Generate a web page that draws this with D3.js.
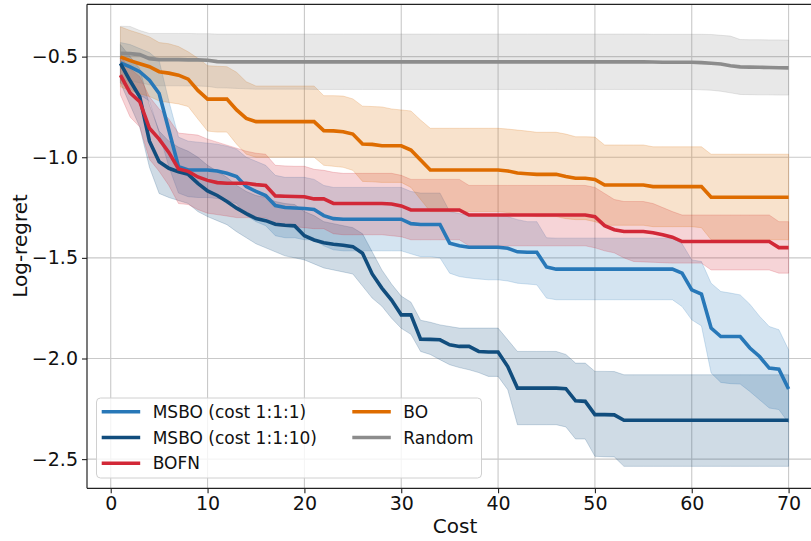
<!DOCTYPE html>
<html><head><meta charset="utf-8">
<script src="https://cdn.jsdelivr.net/npm/d3@7"></script>
<style>
html,body{margin:0;padding:0;background:#fff;}
svg{display:block;font-family:"DejaVu Sans",sans-serif;}
</style></head>
<body><svg id="chart" width="811" height="541"></svg>
<script>
const cost = [1,2,3,4,5,6,7,8,9,10,11,12,13,14,15,16,17,18,19,20,21,22,23,24,25,26,27,28,29,30,31,32,33,34,35,36,37,38,39,40,41,42,43,44,45,46,47,48,49,50,51,52,53,54,55,56,57,58,59,60,61,62,63,64,65,66,67,68,69,70];

const xTicks = [0,10,20,30,40,50,60,70];
const yTicks = [-2.5,-2.0,-1.5,-1.0,-0.5];
const seriesNames = ["MSBO (cost 1:1:1)","MSBO (cost 1:1:10)","BOFN","BO","Random"];

// MSBO (cost 1:1:1)
const msbo111 = [-0.531,-0.551,-0.575,-0.617,-0.683,-0.865,-1.047,-1.063,-1.063,-1.063,
-1.068,-1.080,-1.096,-1.146,-1.170,-1.190,-1.240,-1.250,-1.252,-1.255,
-1.260,-1.290,-1.305,-1.308,-1.308,-1.308,-1.308,-1.308,-1.308,-1.308,
-1.330,-1.334,-1.334,-1.334,-1.427,-1.440,-1.447,-1.447,-1.447,-1.447,
-1.452,-1.470,-1.472,-1.472,-1.545,-1.556,-1.556,-1.556,-1.556,-1.556,
-1.556,-1.556,-1.556,-1.556,-1.556,-1.556,-1.556,-1.556,-1.576,-1.659,
-1.680,-1.849,-1.891,-1.891,-1.891,-1.948,-1.990,-2.048,-2.053,-2.152];
const msbo111Up = [-0.430,-0.440,-0.460,-0.480,-0.520,-0.720,-0.900,-0.920,-0.925,-0.930,
-0.935,-0.945,-0.960,-1.000,-1.020,-1.040,-1.090,-1.100,-1.100,-1.100,
-1.110,-1.140,-1.150,-1.150,-1.150,-1.150,-1.150,-1.150,-1.150,-1.150,
-1.170,-1.178,-1.178,-1.178,-1.270,-1.280,-1.290,-1.290,-1.290,-1.290,
-1.295,-1.310,-1.320,-1.320,-1.400,-1.402,-1.402,-1.402,-1.402,-1.402,
-1.402,-1.402,-1.402,-1.402,-1.402,-1.402,-1.402,-1.402,-1.430,-1.510,
-1.518,-1.626,-1.667,-1.675,-1.684,-1.730,-1.790,-1.841,-1.857,-1.957];
const msbo111Lo = [-0.630,-0.660,-0.690,-0.720,-0.880,-1.047,-1.178,-1.196,-1.200,-1.200,
-1.205,-1.215,-1.230,-1.290,-1.320,-1.340,-1.390,-1.400,-1.400,-1.410,
-1.410,-1.440,-1.460,-1.465,-1.465,-1.465,-1.465,-1.465,-1.465,-1.465,
-1.480,-1.494,-1.494,-1.500,-1.576,-1.593,-1.600,-1.605,-1.609,-1.609,
-1.615,-1.626,-1.630,-1.634,-1.700,-1.708,-1.708,-1.708,-1.708,-1.708,
-1.708,-1.708,-1.708,-1.708,-1.708,-1.708,-1.708,-1.708,-1.742,-1.808,
-1.838,-2.072,-2.119,-2.125,-2.127,-2.164,-2.205,-2.246,-2.254,-2.320];

// MSBO (cost 1:1:10)
const msbo1110 = [-0.534,-0.620,-0.700,-0.920,-1.022,-1.055,-1.072,-1.085,-1.130,-1.167,
-1.190,-1.220,-1.253,-1.280,-1.305,-1.315,-1.333,-1.338,-1.341,-1.390,
-1.411,-1.425,-1.432,-1.437,-1.444,-1.477,-1.580,-1.650,-1.710,-1.783,
-1.783,-1.904,-1.905,-1.907,-1.932,-1.940,-1.940,-1.965,-1.968,-1.968,
-2.040,-2.147,-2.147,-2.147,-2.147,-2.147,-2.150,-2.210,-2.213,-2.279,
-2.279,-2.280,-2.307,-2.307,-2.307,-2.307,-2.307,-2.307,-2.307,-2.307,
-2.307,-2.307,-2.307,-2.307,-2.307,-2.307,-2.307,-2.307,-2.307,-2.307];
const msbo1110Up = [-0.440,-0.500,-0.560,-0.740,-0.870,-0.920,-0.950,-0.970,-1.000,-1.040,
-1.070,-1.100,-1.140,-1.170,-1.190,-1.200,-1.220,-1.230,-1.235,-1.270,
-1.290,-1.320,-1.330,-1.340,-1.350,-1.380,-1.470,-1.560,-1.630,-1.690,
-1.720,-1.810,-1.820,-1.833,-1.841,-1.849,-1.849,-1.849,-1.849,-1.849,
-1.907,-1.965,-1.965,-1.965,-1.965,-1.965,-1.980,-2.023,-2.023,-2.064,
-2.064,-2.065,-2.081,-2.081,-2.081,-2.081,-2.081,-2.081,-2.081,-2.081,
-2.081,-2.081,-2.081,-2.081,-2.081,-2.081,-2.081,-2.081,-2.081,-2.081];
const msbo1110Lo = [-0.630,-0.740,-0.850,-1.050,-1.180,-1.200,-1.215,-1.230,-1.270,-1.295,
-1.315,-1.335,-1.370,-1.400,-1.430,-1.450,-1.470,-1.490,-1.500,-1.510,
-1.530,-1.550,-1.560,-1.570,-1.580,-1.640,-1.700,-1.740,-1.800,-1.850,
-1.880,-1.965,-1.980,-2.006,-2.031,-2.045,-2.056,-2.070,-2.089,-2.089,
-2.155,-2.329,-2.329,-2.329,-2.329,-2.329,-2.340,-2.400,-2.400,-2.486,
-2.488,-2.489,-2.536,-2.536,-2.536,-2.536,-2.536,-2.536,-2.536,-2.536,
-2.536,-2.536,-2.536,-2.536,-2.536,-2.536,-2.536,-2.536,-2.536,-2.536];

// BOFN
const bofn = [-0.592,-0.680,-0.724,-0.856,-0.910,-0.976,-1.058,-1.070,-1.098,-1.115,
-1.126,-1.129,-1.129,-1.129,-1.136,-1.140,-1.192,-1.194,-1.195,-1.196,
-1.207,-1.207,-1.229,-1.230,-1.230,-1.230,-1.230,-1.230,-1.232,-1.242,
-1.262,-1.262,-1.262,-1.262,-1.262,-1.262,-1.287,-1.287,-1.287,-1.287,
-1.287,-1.287,-1.287,-1.287,-1.287,-1.287,-1.287,-1.287,-1.287,-1.295,
-1.340,-1.360,-1.369,-1.369,-1.369,-1.375,-1.385,-1.397,-1.419,-1.419,
-1.419,-1.419,-1.419,-1.419,-1.419,-1.419,-1.419,-1.419,-1.449,-1.449];
const bofnUp = [-0.500,-0.560,-0.600,-0.700,-0.760,-0.810,-0.880,-0.885,-0.890,-0.910,
-0.925,-0.940,-0.955,-0.970,-0.980,-0.985,-1.040,-1.043,-1.045,-1.045,
-1.060,-1.065,-1.075,-1.080,-1.080,-1.080,-1.080,-1.080,-1.080,-1.090,
-1.110,-1.110,-1.110,-1.110,-1.110,-1.110,-1.140,-1.140,-1.140,-1.140,
-1.140,-1.140,-1.140,-1.140,-1.140,-1.140,-1.140,-1.140,-1.140,-1.150,
-1.180,-1.210,-1.220,-1.220,-1.220,-1.230,-1.250,-1.270,-1.287,-1.287,
-1.287,-1.287,-1.287,-1.287,-1.287,-1.287,-1.287,-1.287,-1.320,-1.320];
const bofnLo = [-0.690,-0.800,-0.850,-1.010,-1.070,-1.140,-1.230,-1.235,-1.260,-1.278,
-1.285,-1.292,-1.300,-1.300,-1.300,-1.300,-1.340,-1.345,-1.345,-1.350,
-1.355,-1.355,-1.380,-1.385,-1.385,-1.385,-1.385,-1.385,-1.390,-1.395,
-1.410,-1.410,-1.410,-1.410,-1.410,-1.410,-1.440,-1.440,-1.440,-1.440,
-1.440,-1.440,-1.440,-1.440,-1.440,-1.440,-1.440,-1.440,-1.440,-1.450,
-1.465,-1.475,-1.500,-1.518,-1.520,-1.522,-1.524,-1.526,-1.526,-1.526,
-1.526,-1.560,-1.560,-1.560,-1.560,-1.560,-1.560,-1.560,-1.576,-1.576];

// BO
const bo = [-0.501,-0.520,-0.535,-0.550,-0.575,-0.582,-0.592,-0.612,-0.668,-0.711,
-0.711,-0.711,-0.765,-0.807,-0.823,-0.823,-0.823,-0.823,-0.823,-0.823,
-0.823,-0.868,-0.869,-0.873,-0.885,-0.934,-0.936,-0.943,-0.943,-0.943,
-0.964,-1.014,-1.063,-1.063,-1.063,-1.063,-1.063,-1.063,-1.063,-1.063,
-1.068,-1.078,-1.082,-1.085,-1.085,-1.085,-1.096,-1.104,-1.104,-1.110,
-1.138,-1.138,-1.138,-1.138,-1.138,-1.146,-1.146,-1.146,-1.146,-1.146,
-1.146,-1.199,-1.199,-1.199,-1.199,-1.199,-1.199,-1.199,-1.199,-1.199];
const boUp = [-0.352,-0.370,-0.385,-0.402,-0.430,-0.436,-0.450,-0.476,-0.508,-0.545,
-0.548,-0.550,-0.578,-0.625,-0.646,-0.646,-0.646,-0.646,-0.646,-0.646,
-0.646,-0.694,-0.694,-0.696,-0.710,-0.746,-0.748,-0.750,-0.760,-0.765,
-0.770,-0.815,-0.856,-0.856,-0.856,-0.856,-0.856,-0.856,-0.856,-0.856,
-0.860,-0.865,-0.870,-0.876,-0.876,-0.876,-0.885,-0.898,-0.898,-0.900,
-0.939,-0.939,-0.939,-0.939,-0.939,-0.948,-0.948,-0.948,-0.948,-0.948,
-0.948,-0.985,-0.985,-0.985,-0.985,-0.985,-0.985,-0.985,-0.985,-0.985];
const boLo = [-0.650,-0.670,-0.685,-0.698,-0.720,-0.728,-0.735,-0.748,-0.810,-0.870,
-0.875,-0.875,-0.935,-0.985,-1.000,-1.000,-1.000,-1.000,-1.000,-1.000,
-1.000,-1.040,-1.045,-1.050,-1.065,-1.120,-1.122,-1.125,-1.125,-1.125,
-1.150,-1.210,-1.270,-1.270,-1.270,-1.270,-1.270,-1.270,-1.270,-1.270,
-1.275,-1.285,-1.290,-1.295,-1.295,-1.295,-1.305,-1.310,-1.310,-1.320,
-1.338,-1.338,-1.338,-1.338,-1.338,-1.345,-1.345,-1.345,-1.345,-1.345,
-1.350,-1.410,-1.410,-1.410,-1.410,-1.410,-1.410,-1.410,-1.410,-1.410];

// Random
const rnd = [-0.484,-0.485,-0.490,-0.510,-0.515,-0.515,-0.515,-0.516,-0.516,-0.518,
-0.525,-0.526,-0.526,-0.526,-0.526,-0.526,-0.526,-0.526,-0.526,-0.526,
-0.526,-0.526,-0.526,-0.526,-0.526,-0.526,-0.526,-0.526,-0.526,-0.526,
-0.526,-0.526,-0.526,-0.526,-0.526,-0.526,-0.526,-0.526,-0.526,-0.526,
-0.526,-0.526,-0.526,-0.526,-0.526,-0.526,-0.526,-0.526,-0.526,-0.526,
-0.526,-0.526,-0.526,-0.526,-0.526,-0.527,-0.528,-0.528,-0.528,-0.528,
-0.530,-0.533,-0.537,-0.545,-0.551,-0.552,-0.553,-0.554,-0.555,-0.556];
const rndUp = [-0.349,-0.350,-0.370,-0.385,-0.385,-0.385,-0.385,-0.385,-0.386,-0.386,
-0.388,-0.388,-0.388,-0.388,-0.388,-0.388,-0.388,-0.388,-0.388,-0.388,
-0.388,-0.388,-0.388,-0.388,-0.388,-0.388,-0.388,-0.388,-0.388,-0.388,
-0.388,-0.388,-0.388,-0.388,-0.388,-0.388,-0.388,-0.388,-0.388,-0.388,
-0.388,-0.388,-0.388,-0.388,-0.388,-0.388,-0.388,-0.388,-0.388,-0.388,
-0.388,-0.388,-0.388,-0.388,-0.388,-0.389,-0.389,-0.389,-0.389,-0.389,
-0.389,-0.390,-0.394,-0.398,-0.415,-0.416,-0.416,-0.417,-0.417,-0.418];
const rndLo = [-0.620,-0.620,-0.630,-0.640,-0.645,-0.645,-0.645,-0.646,-0.646,-0.648,
-0.655,-0.656,-0.658,-0.660,-0.662,-0.662,-0.662,-0.662,-0.662,-0.662,
-0.663,-0.663,-0.663,-0.663,-0.663,-0.663,-0.663,-0.663,-0.663,-0.663,
-0.663,-0.663,-0.663,-0.663,-0.663,-0.663,-0.663,-0.663,-0.663,-0.663,
-0.663,-0.663,-0.663,-0.663,-0.663,-0.663,-0.663,-0.663,-0.663,-0.663,
-0.663,-0.663,-0.663,-0.663,-0.663,-0.663,-0.663,-0.663,-0.663,-0.663,
-0.665,-0.667,-0.672,-0.680,-0.688,-0.689,-0.690,-0.690,-0.691,-0.691];

const colors = ["#2878b8","#114d7d","#d22837","#de6c00","#8c8c8c"];

const series = [
  {name: seriesNames[0], mean: msbo111, up: msbo111Up, lo: msbo111Lo, color: colors[0]},
  {name: seriesNames[1], mean: msbo1110, up: msbo1110Up, lo: msbo1110Lo, color: colors[1]},
  {name: seriesNames[2], mean: bofn, up: bofnUp, lo: bofnLo, color: colors[2]},
  {name: seriesNames[3], mean: bo, up: boUp, lo: boLo, color: colors[3]},
  {name: seriesNames[4], mean: rnd, up: rndUp, lo: rndLo, color: colors[4]}
];

(function draw(){
const svg = d3.select("#chart");
const pLeft = 87, pTop = 4.3, pBottom = 488.3, pRight = 822;
const x = d3.scaleLinear().domain([-2.45, 73.45]).range([pLeft, pRight]);
const y = d3.scaleLinear().domain([-2.645, -0.24]).range([pBottom, pTop]);

svg.append("defs").append("clipPath").attr("id","plotclip")
  .append("rect").attr("x",pLeft).attr("y",pTop).attr("width",pRight-pLeft).attr("height",pBottom-pTop);

// grid
const grid = svg.append("g");
grid.selectAll(".vg").data(xTicks).join("line")
  .attr("x1", d => x(d)).attr("x2", d => x(d))
  .attr("y1", pTop).attr("y2", pBottom)
  .attr("stroke", "#c9c9c9").attr("stroke-width", 1.1);
grid.selectAll(".hg").data(yTicks).join("line")
  .attr("x1", pLeft).attr("x2", pRight)
  .attr("y1", d => y(d)).attr("y2", d => y(d))
  .attr("stroke", "#c9c9c9").attr("stroke-width", 1.1);

const plot = svg.append("g").attr("clip-path","url(#plotclip)");

const area = s => d3.area()
  .x((d,i) => x(cost[i]))
  .y0((d,i) => y(s.lo[i]))
  .y1((d,i) => y(s.up[i]))(s.mean);
const line = s => d3.line()
  .x((d,i) => x(cost[i]))
  .y(d => y(d))(s.mean);

series.forEach(s => {
  plot.append("path").attr("d", area(s)).attr("fill", s.color).attr("fill-opacity", 0.2)
    .attr("stroke", s.color).attr("stroke-opacity", 0.2).attr("stroke-width", 1);
});
series.forEach(s => {
  plot.append("path").attr("d", line(s)).attr("fill","none").attr("stroke", s.color)
    .attr("stroke-width", 3.6).attr("stroke-linejoin","miter").attr("stroke-linecap","butt");
});

// axes
const fmtY = d3.format(".1f");
const yAxis = d3.axisLeft(y).tickValues(yTicks).tickFormat(d => fmtY(d)).tickSize(5).tickPadding(4);
const xAxis = d3.axisBottom(x).tickValues(xTicks).tickFormat(d3.format("d")).tickSize(5).tickPadding(3.5);

const gy = svg.append("g").attr("transform",`translate(${pLeft},0)`).call(yAxis);
const gx = svg.append("g").attr("transform",`translate(0,${pBottom})`).call(xAxis);
[gx, gy].forEach(g => {
  g.select(".domain").remove();
  g.selectAll(".tick line").attr("stroke","#222").attr("stroke-width",1.1);
  g.selectAll(".tick text").attr("fill","#111").style("font-size","19px").style("font-family","DejaVu Sans");
});

// spines
svg.append("line").attr("x1",pLeft).attr("x2",pLeft).attr("y1",pTop).attr("y2",pBottom).attr("stroke","#222").attr("stroke-width",1.2);
svg.append("line").attr("x1",pLeft).attr("x2",pRight).attr("y1",pBottom).attr("y2",pBottom).attr("stroke","#222").attr("stroke-width",1.2);
svg.append("line").attr("x1",pLeft).attr("x2",pRight).attr("y1",pTop).attr("y2",pTop).attr("stroke","#222").attr("stroke-width",1.2);
svg.append("line").attr("x1",pRight).attr("x2",pRight).attr("y1",pTop).attr("y2",pBottom).attr("stroke","#222").attr("stroke-width",1.2);

// labels
svg.append("text").attr("x", 455).attr("y", 533).attr("text-anchor","middle")
  .style("font-size","20px").attr("fill","#111").text("Cost");
svg.append("text").attr("transform","translate(27,246) rotate(-90)").attr("text-anchor","middle")
  .style("font-size","20px").attr("fill","#111").text("Log-regret");

// legend
const lg = svg.append("g");
lg.append("rect").attr("x",96.5).attr("y",398).attr("width",385).attr("height",80).attr("rx",4)
  .attr("fill","#fff").attr("fill-opacity",0.8).attr("stroke","#d0d0d0").attr("stroke-width",1);
const legPos = [
  {hx: 101.7, tx: 152.7, yy: 411.7},
  {hx: 101.7, tx: 152.7, yy: 437.5},
  {hx: 101.7, tx: 152.7, yy: 463.3},
  {hx: 352.3, tx: 403.3, yy: 411.7},
  {hx: 352.3, tx: 403.3, yy: 437.5}
];
series.forEach((s,i) => {
  const p = legPos[i];
  lg.append("line").attr("x1",p.hx).attr("x2",p.hx+38.5).attr("y1",p.yy).attr("y2",p.yy)
    .attr("stroke",s.color).attr("stroke-width",3.6);
  lg.append("text").attr("x",p.tx).attr("y",p.yy).attr("dy","0.36em")
    .style("font-size","17px").attr("fill","#111").text(s.name);
});
})();
</script>
</body></html>
